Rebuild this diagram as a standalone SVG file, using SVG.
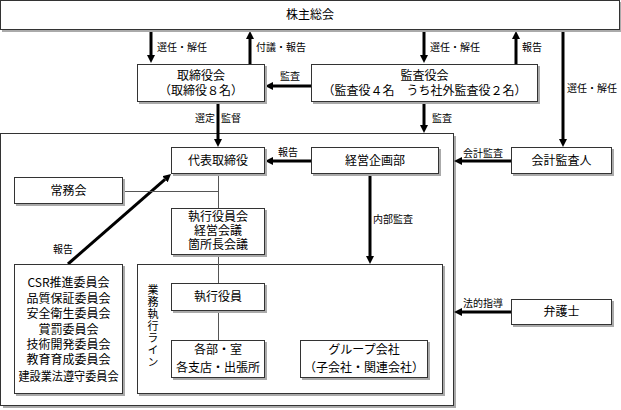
<svg xmlns="http://www.w3.org/2000/svg" width="621" height="410" viewBox="0 0 621 410">
<style>
text{font-family:"Noto Sans CJK JP","Noto Sans CJK SC",sans-serif;fill:#000}
.t{font-size:12px;text-anchor:middle}
.v{font-size:11px;writing-mode:vertical-rl;letter-spacing:1px}
.l{font-size:10px}
.box{fill:#fff;stroke:#333;stroke-width:1}
.sh{fill:#aaa}
.thick{stroke:#000;stroke-width:3;fill:none;marker-end:url(#ah)}
.thin{stroke:#555;stroke-width:1;fill:none}
</style>
<defs>
<marker id="ah" viewBox="0 0 8 8" markerUnits="userSpaceOnUse" markerWidth="8" markerHeight="8" refX="0" refY="4" orient="auto">
<path d="M0,0 L8,4 L0,8 z" fill="#000"/>
</marker>
</defs>
<rect width="621" height="410" fill="#fff"/>

<g id="company">
<rect class="sh" x="3" y="136" width="453" height="272"/>
<rect class="box" x="0.5" y="133.5" width="453" height="272"/>
</g>
<g id="gyomu">
<rect class="sh" x="139" y="266" width="306" height="130"/>
<rect class="box" x="137.5" y="264.5" width="305" height="129"/>
<text class="v" x="153" y="284">業務執行ライン</text>
</g>

<g id="connectors">
<line class="thick" x1="151" y1="31" x2="151" y2="55"/>
<line class="thick" x1="250" y1="64" x2="250" y2="39"/>
<line class="thick" x1="424" y1="31" x2="424" y2="55"/>
<line class="thick" x1="516" y1="64" x2="516" y2="39"/>
<line class="thick" x1="563" y1="31" x2="563" y2="139"/>
<line class="thick" x1="311" y1="86" x2="273" y2="86"/>
<line class="thick" x1="218" y1="102" x2="218" y2="139"/>
<line class="thick" x1="424" y1="102" x2="424" y2="125"/>
<line class="thick" x1="311" y1="161" x2="273" y2="161"/>
<line class="thick" x1="511" y1="161" x2="462" y2="161"/>
<line class="thick" x1="370" y1="174" x2="370" y2="256"/>
<line class="thick" x1="511" y1="312" x2="462" y2="312"/>
<line class="thick" x1="68" y1="264" x2="165" y2="179.3"/>
<line class="thin" x1="218.5" y1="174" x2="218.5" y2="340"/>
<line class="thin" x1="123" y1="191.5" x2="218.5" y2="191.5"/>
<text class="l" x="157" y="51">選任・解任</text>
<text class="l" x="256" y="51">付議・報告</text>
<text class="l" x="430" y="51">選任・解任</text>
<text class="l" x="522" y="51">報告</text>
<text class="l" x="567" y="92">選任・解任</text>
<text class="l" x="280" y="80">監査</text>
<text class="l" x="195" y="122">選定</text>
<text class="l" x="221" y="122">監督</text>
<text class="l" x="432" y="122">監査</text>
<text class="l" x="278" y="156">報告</text>
<text class="l" x="463" y="157">会計監査</text>
<text class="l" x="373" y="223">内部監査</text>
<text class="l" x="53" y="253">報告</text>
<text class="l" x="463" y="307">法的指導</text>
</g>

<g id="kabunushi">
<rect class="sh" x="2" y="2" width="620" height="30"/>
<rect class="box" x="0.5" y="0.5" width="619" height="29"/>
<text class="t" x="310" y="19">株主総会</text>
</g>
<g id="torishimariyakukai">
<rect class="sh" x="139" y="66" width="128" height="38"/>
<rect class="box" x="137.5" y="64.5" width="127" height="37"/>
<text class="t"><tspan x="201" y="80">取締役会</tspan><tspan x="201" y="95">（取締役８名）</tspan></text>
</g>
<g id="kansayakukai">
<rect class="sh" x="313" y="66" width="227" height="38"/>
<rect class="box" x="311.5" y="64.5" width="226" height="37"/>
<text class="t"><tspan x="424.5" y="80">監査役会</tspan><tspan x="424.5" y="95">（監査役４名　うち社外監査役２名）</tspan></text>
</g>
<g id="daihyo">
<rect class="sh" x="173" y="149" width="94" height="27"/>
<rect class="box" x="171.5" y="147.5" width="93" height="26"/>
<text class="t" x="218" y="165">代表取締役</text>
</g>
<g id="keiei">
<rect class="sh" x="313" y="149" width="128" height="27"/>
<rect class="box" x="311.5" y="147.5" width="127" height="26"/>
<text class="t" x="375" y="165">経営企画部</text>
</g>
<g id="kaikei">
<rect class="sh" x="513" y="149" width="101" height="27"/>
<rect class="box" x="511.5" y="147.5" width="100" height="26"/>
<text class="t" x="561.5" y="165">会計監査人</text>
</g>
<g id="jomukai">
<rect class="sh" x="16" y="179" width="109" height="27"/>
<rect class="box" x="14.5" y="177.5" width="108" height="26"/>
<text class="t" x="68.5" y="195">常務会</text>
</g>
<g id="kaigi">
<rect class="sh" x="173" y="210" width="94" height="47"/>
<rect class="box" x="171.5" y="208.5" width="93" height="46"/>
<text class="t"><tspan x="218" y="221">執行役員会</tspan><tspan x="218" y="235">経営会議</tspan><tspan x="218" y="249">箇所長会議</tspan></text>
</g>
<g id="iinkai">
<rect class="sh" x="16" y="266" width="109" height="130"/>
<rect class="box" x="14.5" y="264.5" width="108" height="129"/>
<text class="t"><tspan x="68.5" y="287">CSR推進委員会</tspan><tspan x="68.5" y="303">品質保証委員会</tspan><tspan x="68.5" y="318">安全衛生委員会</tspan><tspan x="68.5" y="334">賞罰委員会</tspan><tspan x="68.5" y="349">技術開発委員会</tspan><tspan x="68.5" y="364">教育育成委員会</tspan><tspan x="68.5" y="381" textLength="100" lengthAdjust="spacingAndGlyphs">建設業法遵守委員会</tspan></text>
</g>
<g id="shikkoyakuin">
<rect class="sh" x="173" y="285" width="94" height="28"/>
<rect class="box" x="171.5" y="283.5" width="93" height="27"/>
<text class="t" x="218" y="301">執行役員</text>
</g>
<g id="kakubu">
<rect class="sh" x="173" y="342" width="94" height="38"/>
<rect class="box" x="171.5" y="340.5" width="93" height="37"/>
<text class="t"><tspan x="218" y="354">各部・室</tspan><tspan x="218" y="372">各支店・出張所</tspan></text>
</g>
<g id="group">
<rect class="sh" x="302" y="342" width="128" height="38"/>
<rect class="box" x="300.5" y="340.5" width="127" height="37"/>
<text class="t"><tspan x="364" y="354">グループ会社</tspan><tspan x="364" y="372">（子会社・関連会社）</tspan></text>
</g>
<g id="bengoshi">
<rect class="sh" x="513" y="301" width="101" height="26"/>
<rect class="box" x="511.5" y="299.5" width="100" height="25"/>
<text class="t" x="561.5" y="316">弁護士</text>
</g>
</svg>
